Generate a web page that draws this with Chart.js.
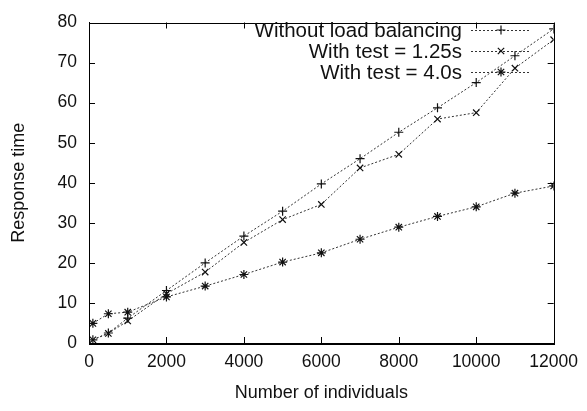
<!DOCTYPE html>
<html>
<head>
<meta charset="utf-8">
<script src="https://cdn.jsdelivr.net/npm/chart.js@4/dist/chart.umd.min.js"></script>
<style>
html,body{margin:0;padding:0;background:#fff;}
#wrap{width:587px;height:411px;}
</style>
</head>
<body>
<div id="wrap"><canvas id="c" width="587" height="411"></canvas></div>
<script>
const individuals = [100, 500, 1000, 2000, 3000, 4000, 5000, 6000, 7000, 8000, 9000, 10000, 11000, 12000];
const withoutLB   = [0.8, 2.5, 6.2, 13.1, 20.0, 26.7, 32.9, 39.7, 46.0, 52.6, 58.7, 65.0, 71.7, 78.4];
const test125     = [0.8, 2.4, 5.5, 12.3, 17.7, 25.1, 30.8, 34.6, 43.7, 47.1, 55.9, 57.5, 68.6, 75.7];
const test40      = [4.9, 7.3, 7.7, 11.5, 14.2, 17.1, 20.2, 22.5, 25.9, 28.9, 31.6, 34.0, 37.4, 39.2];
const seriesLabels = ['Without load balancing', 'With test = 1.25s', 'With test = 4.0s'];
const xTicks = [0, 2000, 4000, 6000, 8000, 10000, 12000];
const yTicks = [0, 10, 20, 30, 40, 50, 60, 70, 80];

const FONT = "'Liberation Sans', Arial, Helvetica, sans-serif";
const pts = ys => individuals.map((x, i) => ({x: x, y: ys[i]}));
const styles = ['cross', 'crossRot', 'star'];

function ds(label, ys, style) {
  return {
    label: label, data: pts(ys), showLine: true,
    borderColor: '#333', borderWidth: 1, borderDash: [2, 2],
    pointStyle: style, pointRadius: 4.5, pointBorderColor: '#111',
    pointBackgroundColor: '#111', pointBorderWidth: 1.2
  };
}

const framePlugin = {
  id: 'frame',
  afterDraw(chart) {
    const ctx = chart.ctx, a = chart.chartArea;
    const xs = chart.scales.x, ys = chart.scales.y;
    ctx.save();
    ctx.strokeStyle = '#000'; ctx.lineWidth = 1; ctx.setLineDash([]);
    ctx.strokeRect(Math.round(a.left) + 0.5, Math.round(a.top) + 0.5,
      Math.round(a.right - a.left), Math.round(a.bottom - a.top));
    const L = 6;
    ctx.beginPath();
    xTicks.forEach(v => {
      const p = Math.round(xs.getPixelForValue(v)) + 0.5;
      ctx.moveTo(p, a.bottom); ctx.lineTo(p, a.bottom - L);
      ctx.moveTo(p, a.top); ctx.lineTo(p, a.top + L);
    });
    yTicks.forEach(v => {
      const p = Math.round(ys.getPixelForValue(v)) + 0.5;
      ctx.moveTo(a.left, p); ctx.lineTo(a.left + L, p);
      ctx.moveTo(a.right, p); ctx.lineTo(a.right - L, p);
    });
    ctx.stroke();

    // gnuplot-style key
    const textRight = 462, lineL = 471, lineR = 531, rows = [30, 51, 72];
    ctx.font = '20.5px ' + FONT;
    ctx.fillStyle = '#111';
    ctx.textAlign = 'right'; ctx.textBaseline = 'middle';
    chart.data.datasets.forEach((d, i) => {
      const y = rows[i];
      ctx.fillText(d.label, textRight, y + 1);
      ctx.save();
      ctx.strokeStyle = d.borderColor; ctx.lineWidth = 1; ctx.setLineDash([2, 2]);
      ctx.beginPath(); ctx.moveTo(lineL, y + 0.5); ctx.lineTo(lineR, y + 0.5); ctx.stroke();
      ctx.restore();
      ctx.save();
      ctx.strokeStyle = '#111'; ctx.fillStyle = '#111'; ctx.lineWidth = 1.2;
      Chart.helpers.drawPoint(ctx, {pointStyle: d.pointStyle, radius: 4.5, rotation: 0, borderWidth: 1.2}, (lineL + lineR) / 2, y);
      ctx.restore();
    });
    ctx.restore();
  }
};

new Chart(document.getElementById('c'), {
  type: 'scatter',
  data: {
    datasets: [
      ds(seriesLabels[0], withoutLB, styles[0]),
      ds(seriesLabels[1], test125, styles[1]),
      ds(seriesLabels[2], test40, styles[2])
    ]
  },
  options: {
    responsive: false, animation: false,
    layout: {padding: {left: 0, right: 28, top: 14, bottom: 0}},
    plugins: {legend: {display: false}, tooltip: {enabled: false}},
    scales: {
      x: {
        type: 'linear', min: 0, max: 12000,
        afterBuildTicks: s => { s.ticks = xTicks.map(v => ({value: v})); },
        afterFit: s => { s.height = 68; },
        grid: {display: false, drawTicks: false},
        border: {display: true, color: '#000', width: 1},
        ticks: {color: '#111', padding: 9, maxRotation: 0, callback: v => String(v),
                font: {family: FONT, size: 17.5}},
        title: {display: true, text: 'Number of individuals', color: '#111',
                font: {family: FONT, size: 18}, padding: {top: 0, bottom: 7}}
      },
      y: {
        type: 'linear', min: 0, max: 80,
        afterBuildTicks: s => { s.ticks = yTicks.map(v => ({value: v})); },
        afterFit: s => { s.width = 89; },
        grid: {display: false, drawTicks: false},
        border: {display: true, color: '#000', width: 1},
        ticks: {color: '#111', padding: 12, callback: v => String(v),
                font: {family: FONT, size: 17.5}},
        title: {display: true, text: 'Response time', color: '#111',
                font: {family: FONT, size: 18}, padding: {top: 8, bottom: 0}}
      }
    }
  },
  plugins: [framePlugin]
});
</script>
</body>
</html>
